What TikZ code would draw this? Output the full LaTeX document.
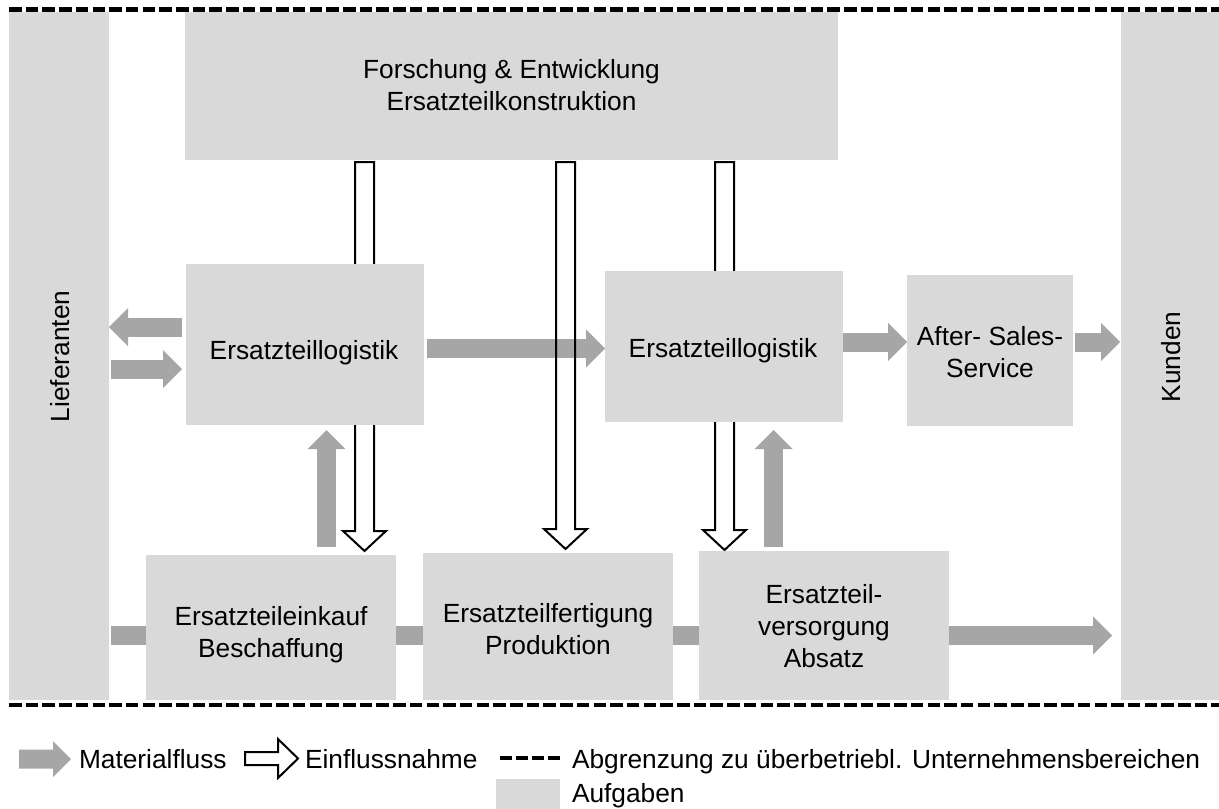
\documentclass[tikz,border=0pt]{standalone}
\usepackage{fontspec}
\setmainfont{Liberation Sans}
\usetikzlibrary{arrows.meta,calc}
\definecolor{boxgray}{HTML}{D9D9D9}
\definecolor{arrgray}{HTML}{A6A6A6}
\pgfdeclarelayer{bg}
\pgfsetlayers{bg,main}
\begin{document}
\begin{tikzpicture}[x=1pt,y=-1pt,
  box/.style={rectangle, fill=boxgray, draw=none, inner sep=0pt, outer sep=0pt},
  lbl/.style={font=\fontsize{26.3}{32}\selectfont, inner sep=0pt, outer sep=0pt, anchor=base},
  lblw/.style={lbl, anchor=base west},
  mat/.style={draw=arrgray, line width=19pt, -{Triangle[length=19pt,width=38pt,line width=0pt]}},
  hollow/.style={draw=black, line width=2pt, line join=miter, to path={
    let \p1=(\tikztostart), \p2=(\tikztotarget) in
    (\x1-9.5pt,\y1) -- (\x1-9.5pt,\y2+20pt) -- (\x1-21.5pt,\y2+20pt) -- (\x2,\y2)
    -- (\x1+21.5pt,\y2+20pt) -- (\x1+9.5pt,\y2+20pt) -- (\x1+9.5pt,\y1) -- cycle}},
  bound/.style={line width=4.5pt, dash pattern=on 12.5pt off 4.2pt}]
\useasboundingbox (0,0) rectangle (1219,809);

% boxes
\node[box, minimum width=100pt, minimum height=688pt] (lief) at (59,356) {};
\node[box, minimum width=98pt, minimum height=688pt] (kund) at (1170,356) {};
\node[box, minimum width=653pt, minimum height=148pt] (fe) at (511.5,86) {};
\node[box, minimum width=238pt, minimum height=161pt] (log1) at (305,344.5) {};
\node[box, minimum width=238pt, minimum height=151pt] (log2) at (724,346.5) {};
\node[box, minimum width=166pt, minimum height=151pt] (as) at (990,350.5) {};
\node[box, minimum width=250pt, minimum height=145pt] (ek) at (271,627.5) {};
\node[box, minimum width=250pt, minimum height=147pt] (fert) at (548,626.5) {};
\node[box, minimum width=250pt, minimum height=149pt] (vers) at (824,625.5) {};

% labels
\node[lbl, rotate=90] (tlief) at (69,356.5) {Lieferanten};
\node[lbl, rotate=90] (tkund) at (1180,357) {Kunden};
\node[lbl] (tfe1) at (511.5,78) {Forschung \& Entwicklung};
\node[lbl] (tfe2) at (511.5,110) {Ersatzteilkonstruktion};
\node[lbl] (tlog1) at (304,359) {Ersatzteillogistik};
\node[lbl] (tlog2) at (723,357) {Ersatzteillogistik};
\node[lbl] (tas1) at (990,345) {After- Sales-};
\node[lbl] (tas2) at (990,377) {Service};
\node[lbl] (tek1) at (271,625) {Ersatzteileinkauf};
\node[lbl] (tek2) at (271,657) {Beschaffung};
\node[lbl] (tfert1) at (548,622) {Ersatzteilfertigung};
\node[lbl] (tfert2) at (548,654) {Produktion};
\node[lbl] (tvers1) at (824,603) {Ersatzteil-};
\node[lbl] (tvers2) at (824,635) {versorgung};
\node[lbl] (tvers3) at (824,667) {Absatz};

% connectors (behind boxes)
\begin{pgfonlayer}{bg}
  \draw[mat, shorten <=4pt] (log1.west |- 0,327) -- (lief.east |- 0,327);
  \draw[mat, shorten <=2pt, shorten >=4pt] (lief.east |- 0,369) -- (log1.west |- 0,369);
  \draw[mat, shorten <=3pt] (log1.east |- 0,348.5) -- (log2.west |- 0,348.5);
  \draw[mat] (log2.east |- 0,342) -- (as.west |- 0,342);
  \draw[mat, shorten <=2pt, shorten >=1pt] (as.east |- 0,342) -- (kund.west |- 0,342);
  \draw[mat, shorten <=2pt, shorten >=9pt] (lief.east |- 0,635.5) -- (kund.west |- 0,635.5);
  \draw[mat, shorten <=8pt, shorten >=5pt] (ek.north -| 326.5,0) -- (log1.south -| 326.5,0);
  \draw[mat, shorten <=4pt, shorten >=8pt] (vers.north -| 773.5,0) -- (log2.south -| 773.5,0);
  \draw[hollow] ($(fe.south -| 364.5,0)+(0,2)$) to ($(ek.north -| 364.5,0)+(0,-4)$);
  \draw[hollow] ($(fe.south -| 565.5,0)+(0,2)$) to ($(fert.north -| 565.5,0)+(0,-4)$);
  \draw[hollow] ($(fe.south -| 724.5,0)+(0,2)$) to ($(vers.north -| 724.5,0)+(0,-1)$);
\end{pgfonlayer}

% boundaries
\draw[bound] (9,9.5) -- (1219,9.5);
\draw[bound] (9,705) -- (1219,705);

% legend
\fill[arrgray] (19,749.5) -- (53,749.5) -- (53,741) -- (71,759) -- (53,777) -- (53,768.5) -- (19,768.5) -- cycle;
\node[lblw] (lmat) at (79,768) {Materialfluss};
\draw[line width=2pt, line join=miter] (245,752) -- (278,752) -- (278,739) -- (298,758.5) -- (278,778) -- (278,765) -- (245,765) -- cycle;
\node[lblw] (lein) at (305,768) {Einflussnahme};
\draw[line width=4pt, dash pattern=on 12pt off 4pt] (500,758) -- (560,758);
\node[lblw] (labg) at (572,768) {Abgrenzung zu überbetriebl. Unternehmensbereichen};
\fill[boxgray] (496,779) rectangle (560,809);
\node[lblw] (lauf) at (572,802) {Aufgaben};
\end{tikzpicture}
\end{document}
